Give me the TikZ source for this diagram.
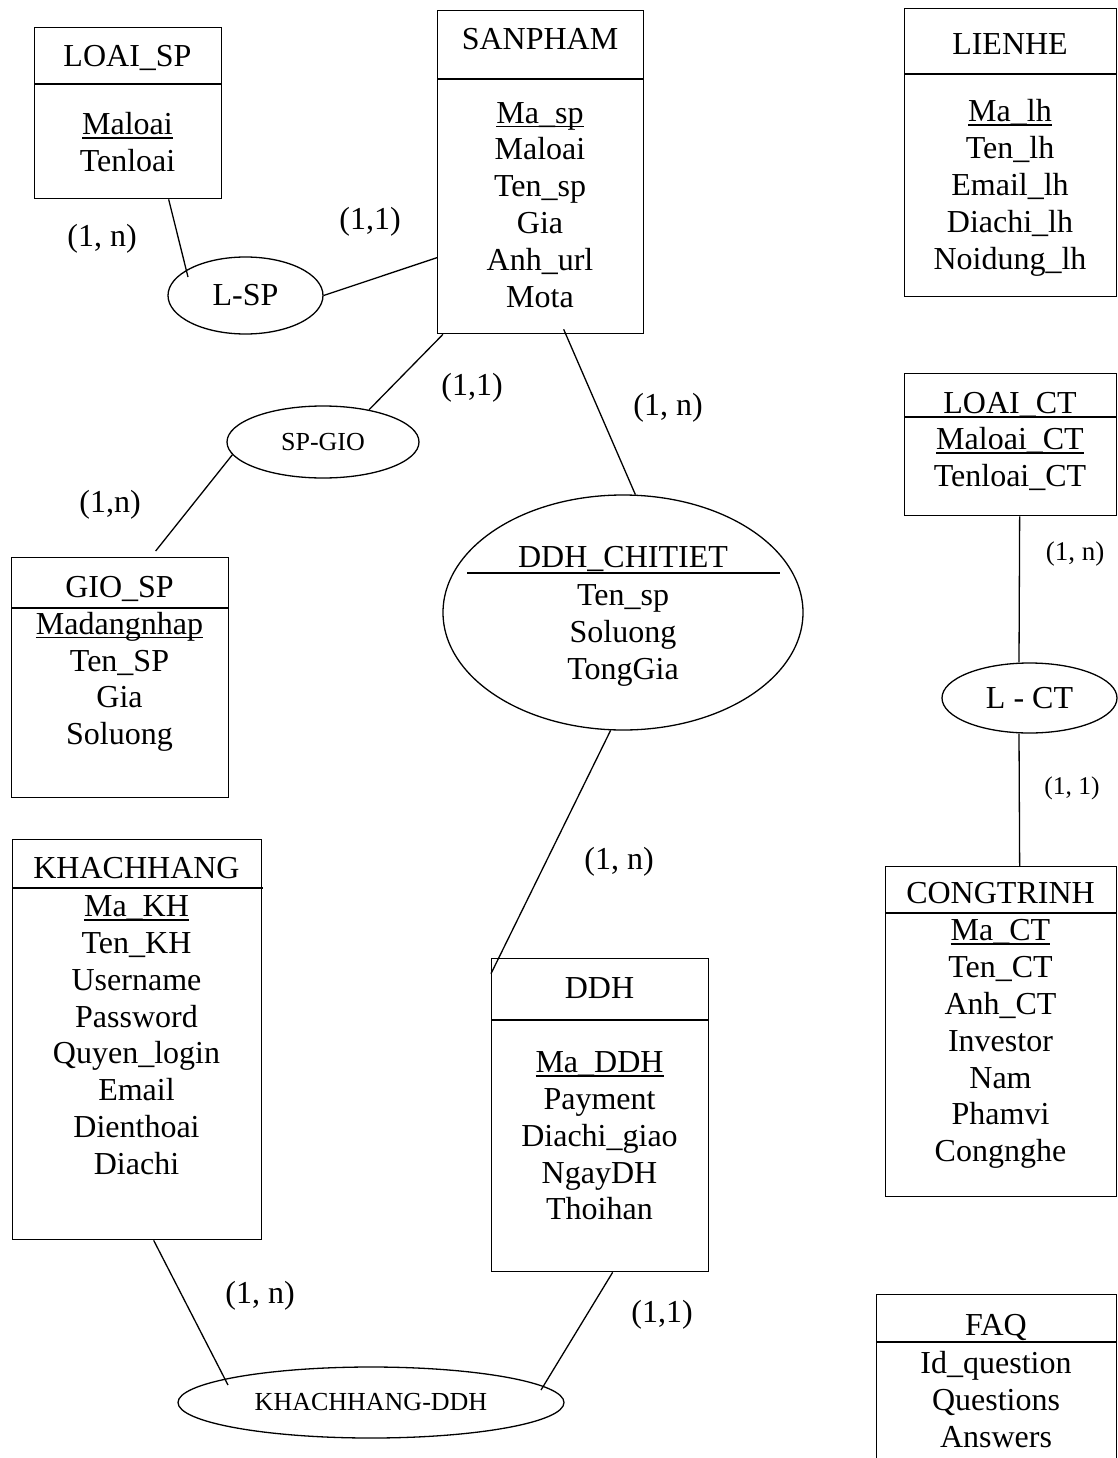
\documentclass[tikz,border=0pt]{standalone}
\usepackage{fontspec}
\setmainfont{Liberation Serif}
\usetikzlibrary{shapes.geometric}
\newcommand{\bigsz}{\fontsize{32}{36.8}\selectfont}
\newcommand{\smsz}{\fontsize{26}{30}\selectfont}
\newcommand{\pkey}[1]{\leavevmode\setbox0\hbox{#1}\rlap{\rule[-4pt]{\wd0}{1.5pt}}\box0}

\begin{document}
\begin{tikzpicture}[x=1pt, y=-1pt, line width=1.3pt,
  ent/.style={draw, rectangle, anchor=north west, inner sep=0pt},
  rel/.style={draw, ellipse, inner sep=0pt, font=\bigsz},
  ttl/.style={anchor=base, inner sep=0pt, font=\bigsz},
  attr/.style={anchor=north, align=center, inner sep=0pt, font=\bigsz},
  card/.style={inner sep=0pt, font=\bigsz}]
\path[use as bounding box] (0,0) rectangle (1118,1458);
\clip (0,0) rectangle (1118,1458);

% entities
\node[ent, minimum width=187pt, minimum height=171pt] (loaisp) at (34,27) {};
\draw (34,84) -- (221,84);
\node[ttl] (loaisp-t) at (127.5,66.7) {LOAI\_SP};
\node[attr] (loaisp-a) at (127.5,112) {\pkey{Maloai}\\Tenloai};

\node[ent, minimum width=206pt, minimum height=323pt] (sanpham) at (437,10) {};
\draw (437,79) -- (643,79);
\node[ttl] (sanpham-t) at (540,50) {SANPHAM};
\node[attr] (sanpham-a) at (540,101.5) {\pkey{Ma\_sp}\\Maloai\\Ten\_sp\\Gia\\Anh\_url\\Mota};

\node[ent, minimum width=212pt, minimum height=288pt] (lienhe) at (904,8) {};
\draw (904,74) -- (1116,74);
\node[ttl] (lienhe-t) at (1010,55) {LIENHE};
\node[attr] (lienhe-a) at (1010,99) {\pkey{Ma\_lh}\\Ten\_lh\\Email\_lh\\Diachi\_lh\\Noidung\_lh};

\node[ent, minimum width=212pt, minimum height=142pt] (loaict) at (904,373) {};
\draw (904,417) -- (1116,417);
\node[ttl] (loaict-t) at (1010,413) {LOAI\_CT};
\node[attr] (loaict-a) at (1010,427) {\pkey{Maloai\_CT}\\Tenloai\_CT};

\node[ent, minimum width=217pt, minimum height=240pt] (giosp) at (11,557) {};
\draw (11,608) -- (228,608);
\node[ttl] (giosp-t) at (119.5,597) {GIO\_SP};
\node[attr] (giosp-a) at (119.5,611.5) {\pkey{Madangnhap}\\Ten\_SP\\Gia\\Soluong};

\node[ent, minimum width=249pt, minimum height=400pt] (kh) at (12,839) {};
\draw (12,888) -- (263,888);
\node[ttl] (kh-t) at (136.5,878) {KHACHHANG};
\node[attr] (kh-a) at (136.5,895) {\pkey{Ma\_KH}\\Ten\_KH\\Username\\Password\\Quyen\_login\\Email\\Dienthoai\\Diachi};

\node[ent, minimum width=217pt, minimum height=313pt] (ddh) at (491,958) {};
\draw (491,1020) -- (708,1020);
\node[ttl] (ddh-t) at (599.5,998) {DDH};
\node[attr] (ddh-a) at (599.5,1051) {\pkey{Ma\_DDH}\\Payment\\Diachi\_giao\\NgayDH\\Thoihan};

\node[ent, minimum width=231pt, minimum height=330pt] (congtrinh) at (885,866) {};
\draw (885,913) -- (1116,913);
\node[ttl] (congtrinh-t) at (1000.5,903) {CONGTRINH};
\node[attr] (congtrinh-a) at (1000.5,919) {\pkey{Ma\_CT}\\Ten\_CT\\Anh\_CT\\Investor\\Nam\\Phamvi\\Congnghe};

\node[ent, minimum width=240pt, minimum height=200pt] (faq) at (876,1294) {};
\draw (876,1342) -- (1116,1342);
\node[ttl] (faq-t) at (996,1335) {FAQ};
\node[attr] (faq-a) at (996,1351) {Id\_question\\Questions\\Answers};

% relationships
\node[rel, minimum width=155pt, minimum height=77pt] (lsp) at (245.5,295.5) {L-SP};
\node[rel, minimum width=192pt, minimum height=72pt, font=\smsz] (spgio) at (323,442) {SP-GIO};
\node[rel, minimum width=360pt, minimum height=235pt] (ctdh) at (623,612.5) {};
\draw (467,573) -- (780,573);
\node[ttl] (ctdh-t) at (623,567) {DDH\_CHITIET};
\node[attr] (ctdh-a) at (623,584) {Ten\_sp\\Soluong\\TongGia};
\node[rel, minimum width=175pt, minimum height=70pt] (lct) at (1029.5,698) {L - CT};
\node[rel, minimum width=386pt, minimum height=71pt, font=\smsz] (khddh) at (371,1402.5) {KHACHHANG-DDH};

% connectors
\draw ([xshift=40.5pt]loaisp.south) -- ([xshift=-57.5pt,yshift=18.5pt]lsp.center);
\draw (lsp.east) -- ([yshift=-85.5pt]sanpham.west);
\draw ([xshift=6pt]sanpham.south west) -- (spgio.35);
\draw (spgio.188) -- ([xshift=35.5pt,yshift=6pt]giosp.north);
\draw ([xshift=23pt,yshift=5pt]sanpham.south) -- (ctdh.84);
\draw (ctdh.264) -- ([yshift=141.5pt]ddh.west);
\draw ([xshift=16.5pt]kh.south) -- ([xshift=-143pt,yshift=17.5pt]khddh.center);
\draw ([xshift=12.5pt]ddh.south) -- ([xshift=170pt,yshift=12.5pt]khddh.center);
\draw ([xshift=9pt]loaict.south) -- ([xshift=-10.5pt]lct.north);
\draw ([xshift=-10.5pt]lct.south) -- ([xshift=18.5pt]congtrinh.north);

% cardinalities
\node[card] (c1) at (102,239) {(1, n)};
\node[card] (c2) at (370,222) {(1,1)};
\node[card] (c3) at (472,388) {(1,1)};
\node[card] (c4) at (668,408) {(1, n)};
\node[card] (c5) at (110,505) {(1,n)};
\node[card, font=\fontsize{27}{30}\selectfont] (c6) at (1075,554) {(1, n)};
\node[card, font=\fontsize{25.5}{30}\selectfont] (c7) at (1072,788) {(1, 1)};
\node[card] (c8) at (619,862) {(1, n)};
\node[card] (c9) at (260,1296) {(1, n)};
\node[card] (c10) at (662,1315) {(1,1)};
\end{tikzpicture}
\end{document}
